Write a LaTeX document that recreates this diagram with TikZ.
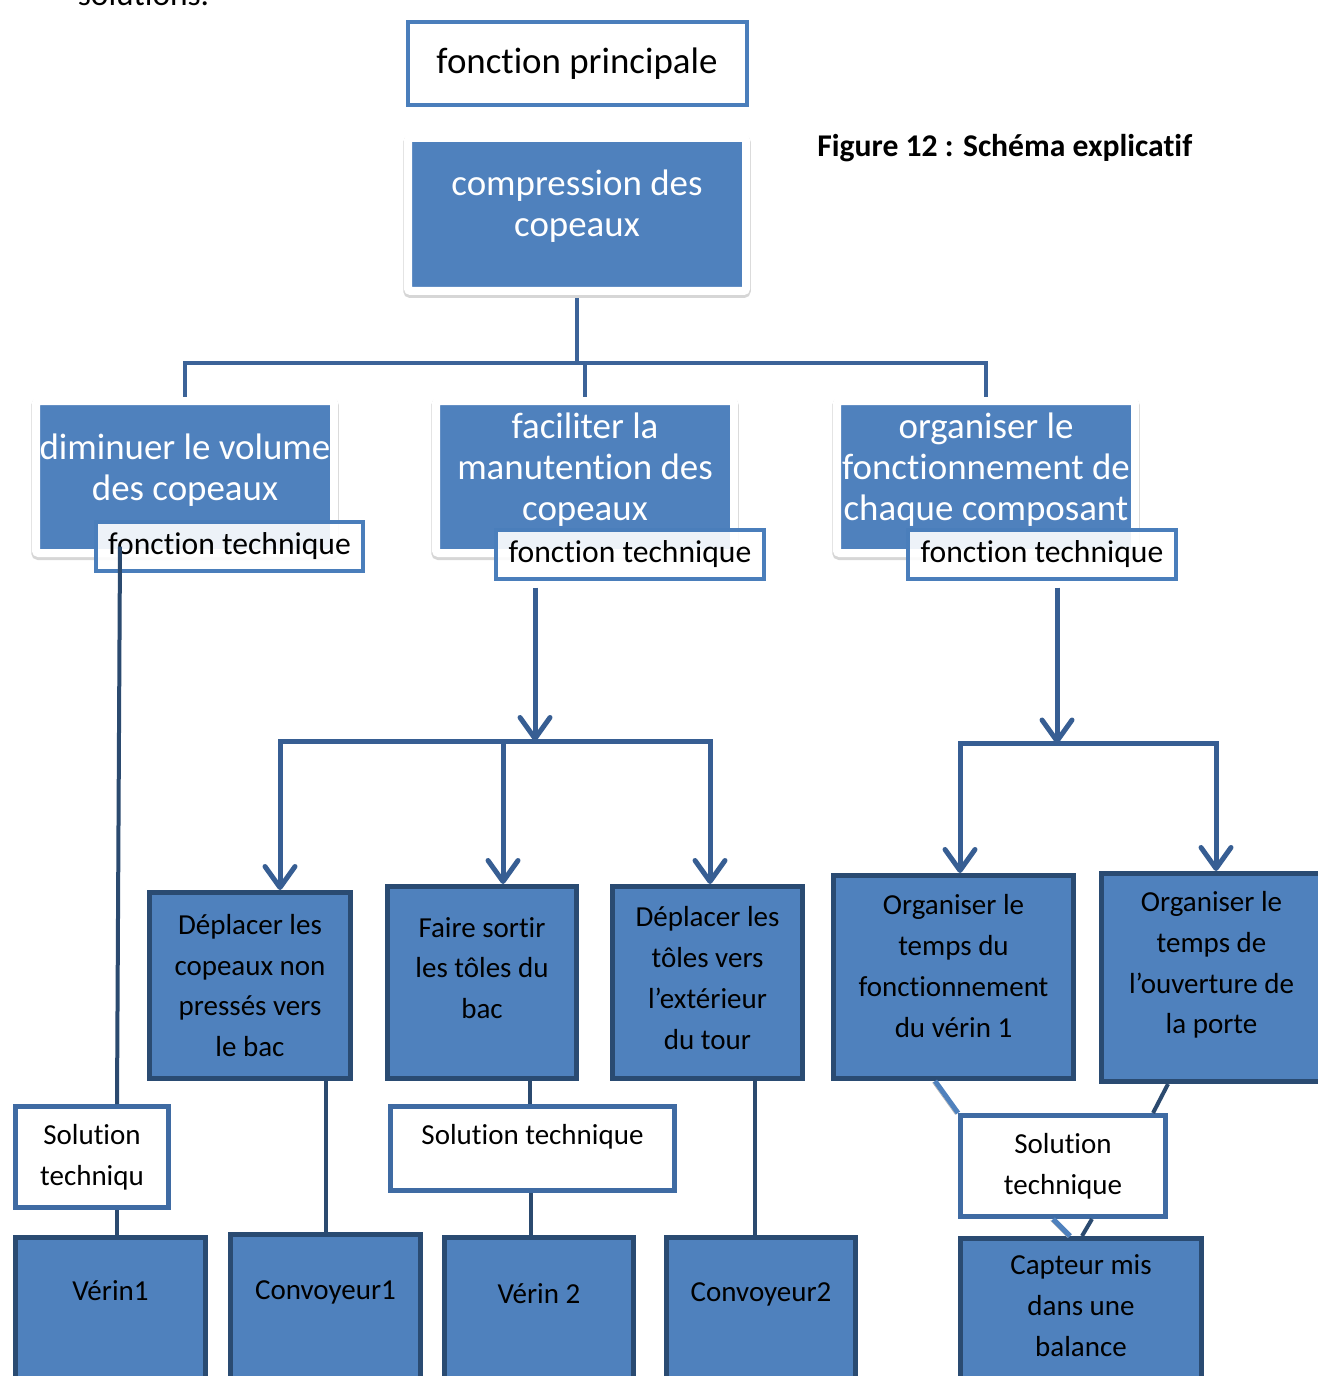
\documentclass[tikz,border=0pt]{standalone}
\usepackage{fontspec}
\setmainfont{Carlito}[Ligatures=NoCommon]
\usetikzlibrary{arrows.meta,positioning,backgrounds}

\definecolor{boxblue}{HTML}{4F81BD}
\definecolor{edgeblue}{HTML}{2A4B72}
\definecolor{flowblue}{HTML}{375E93}
\definecolor{treeblue}{HTML}{3C6398}
\definecolor{tagblue}{HTML}{4A7EBB}
\definecolor{solblue}{HTML}{3F6BA3}
\definecolor{linkdark}{HTML}{2B4A6F}

\begin{document}
\begin{tikzpicture}[
  font=\fontsize{16.5}{23.2}\selectfont,
  >={Straight Barb[length=4.2mm,width=6mm,round]},
  head/.style={draw=tagblue,line width=0.8mm,fill=white,
               minimum width=67.8mm,minimum height=16.6mm,
               font=\fontsize{21}{23.2}\selectfont},
  fct/.style={draw=white,line width=1.6mm,fill=boxblue,rounded corners=0.5mm,
              minimum width=59.6mm,minimum height=30.4mm,
              preaction={draw=black!16,line width=1.9mm,
                         transform canvas={yshift=-0.45mm}}},
  wtxt/.style={align=center,text=white,inner sep=0pt,
               font=\fontsize{21}{23.2}\selectfont},
  tag/.style={draw=tagblue,line width=0.8mm,fill=white,fill opacity=0.9,
              text opacity=1,minimum width=53.5mm,minimum height=9.8mm,
              font=\fontsize{18}{21}\selectfont},
  sub/.style={draw=edgeblue,line width=1mm,fill=boxblue,align=center},
  soltag/.style={draw=solblue,line width=1mm,fill=white,align=center},
  btxt/.style={align=center,inner sep=0pt},
  tree/.style={draw=treeblue,line width=0.8mm},
  flow/.style={draw=flowblue,line width=1mm},
  link/.style={draw=linkdark,line width=0.8mm},
  lite/.style={draw=boxblue,line width=1mm,
               preaction={draw=black!30,
                          transform canvas={shift={(-0.5mm,-0.3mm)}}}},
]
\useasboundingbox (0,0) rectangle (263.4mm,-275.2mm);

% ---- top: main function and caption ----
\node[anchor=base west,inner sep=0pt,font=\fontsize{19}{22}\selectfont]
     (intro) at (15.5mm,-1.2mm) {solutions.};
\node[head] (princ) at (115.4mm,-12.7mm) {fonction principale};
\node[anchor=base west,inner sep=0pt,font=\bfseries\fontsize{18}{21}\selectfont]
     (caption) at (163.4mm,-31.3mm) {Figure 12 : Schéma explicatif};

\node[fct,minimum width=67.6mm,minimum height=30.6mm] (comp) at (115.4mm,-42.9mm) {};
\node[wtxt] (comptxt) at ([yshift=1.6mm]comp.center) {compression des\\copeaux};

% ---- level 2: the three functions with their tags ----
\node[fct] (dimvol) at (37.0mm,-95.4mm) {};
\node[wtxt] (dimtxt) at ([yshift=1.4mm]dimvol.center)
     {diminuer le volume\\des copeaux};
\node[fct] (facman) at (117.0mm,-95.4mm) {};
\node[wtxt] (factxt) at ([yshift=1.5mm]facman.center)
     {faciliter la\\manutention des\\copeaux};
\node[fct] (orgfct) at (197.2mm,-95.4mm) {};
\node[wtxt] (orgtxt) at ([yshift=1.5mm]orgfct.center)
     {organiser le\\fonctionnement de\\chaque composant};

\node[tag] (ftdim) at (45.9mm,-109.3mm) {fonction technique};
\node[tag] (ftfac) at (126.0mm,-110.9mm) {fonction technique};
\node[tag] (ftorg) at (208.4mm,-110.9mm) {fonction technique};

% ---- level 3: technical sub-functions ----
\node[sub,minimum width=40.2mm,minimum height=37.2mm] (depcop) at (50.0mm,-197.1mm)
     {Déplacer les\\copeaux non\\pressés vers\\le bac};
\node[sub,minimum width=37.8mm,minimum height=38.4mm] (sortol) at (96.4mm,-196.5mm) {};
\node[btxt] (sortxt) at ([yshift=2.9mm]sortol.center) {Faire sortir\\les tôles du\\bac};
\node[sub,minimum width=38mm,minimum height=38.4mm] (deptol) at (141.5mm,-196.5mm) {};
\node[btxt] (deptxt) at ([yshift=0.9mm]deptol.center)
     {Déplacer les\\tôles vers\\l’extérieur\\du tour};
\node[sub,minimum width=48mm,minimum height=40.6mm] (orgver) at (190.7mm,-195.4mm) {};
\node[btxt] (vertxt) at ([yshift=2.2mm]orgver.center)
     {Organiser le\\temps du\\fonctionnement\\du vérin 1};
\node[sub,minimum width=44mm,minimum height=41.6mm] (orgpor) at (242.3mm,-195.5mm) {};
\node[btxt] (portxt) at ([yshift=2.5mm]orgpor.center)
     {Organiser le\\temps de\\l’ouverture de\\la porte};

% ---- solution tags ----
\node[soltag,minimum width=30.6mm,minimum height=20.2mm] (soldim) at (18.4mm,-231.4mm)
     {Solution\\techniqu};
\node[soltag,minimum width=56.8mm,minimum height=16.8mm] (solsor) at (106.5mm,-229.7mm) {};
\node[btxt] (solsortxt) at ([yshift=2.3mm]solsor.center) {Solution technique};
\node[soltag,minimum width=41mm,minimum height=20.2mm] (solorg) at (212.6mm,-233.2mm)
     {Solution\\technique};

% ---- bottom: components ----
\node[sub,minimum width=38mm,minimum height=32mm] (verin1) at (22.1mm,-263.5mm) {};
\node[btxt] (v1txt) at ([yshift=-11.2mm]verin1.north) {Vérin1};
\node[sub,minimum width=38mm,minimum height=32mm] (conv1) at (65.1mm,-262.9mm) {};
\node[btxt] (c1txt) at ([yshift=-12mm]conv1.north) {Convoyeur1};
\node[sub,minimum width=37.8mm,minimum height=32mm] (verin2) at (107.8mm,-263.5mm) {};
\node[btxt] (v2txt) at ([yshift=-11.8mm]verin2.north) {Vérin 2};
\node[sub,minimum width=37.8mm,minimum height=32mm] (conv2) at (152.2mm,-263.5mm) {};
\node[btxt] (c2txt) at ([yshift=-11.8mm]conv2.north) {Convoyeur2};
\node[sub,minimum width=48.2mm,minimum height=32mm] (capteur) at (216.2mm,-263.7mm) {};
\node[btxt] (captxt) at ([yshift=-13.9mm]capteur.north) {Capteur mis\\dans une\\balance};

% main function splits into the three functions (behind the frames)
\begin{scope}[on background layer]
  \coordinate (bus1) at (0,-72.6mm);
  \draw[tree] (comp.south) -- (comp.south |- bus1);
  \draw[tree,line cap=rect] (dimvol.north) -- (dimvol.north |- bus1)
        -- (orgfct.north |- bus1) -- (orgfct.north);
  \draw[tree] (facman.north) -- (facman.north |- bus1);
\end{scope}

% middle function -> its three sub-functions
\coordinate (bus2) at (0,-148.2mm);
\draw[flow,->] ([xshift=-19mm,yshift=-1.3mm]ftfac.south)
      -- ([xshift=-19mm]ftfac.south |- bus2);
\draw[flow,line cap=rect] ([xshift=6mm]depcop.north |- bus2)
      -- ([xshift=0.5mm]deptol.north |- bus2);
\draw[flow,->] ([xshift=6mm]depcop.north |- bus2) -- ([xshift=6mm]depcop.north);
\draw[flow,->] ([xshift=4.2mm]sortol.north |- bus2) -- ([xshift=4.2mm]sortol.north);
\draw[flow,->] ([xshift=0.5mm]deptol.north |- bus2) -- ([xshift=0.5mm]deptol.north);

% right function -> its two sub-functions
\coordinate (bus3) at (0,-148.7mm);
\draw[flow,->] ([xshift=3mm,yshift=-1.3mm]ftorg.south)
      -- ([xshift=3mm]ftorg.south |- bus3);
\draw[flow,line cap=rect] ([xshift=1.3mm]orgver.north |- bus3)
      -- ([xshift=0.9mm]orgpor.north |- bus3);
\draw[flow,->] ([xshift=1.3mm]orgver.north |- bus3) -- ([xshift=1.3mm]orgver.north);
\draw[flow,->] ([xshift=0.9mm]orgpor.north |- bus3) -- ([xshift=0.9mm]orgpor.north);

% solutions and components
\draw[link] ([xshift=-21.9mm]ftdim.center) -- ([xshift=5mm]soldim.north);
\draw[link] ([xshift=5mm]soldim.south) -- ([xshift=5mm]soldim.south |- verin1.north);
\draw[link] ([xshift=15.2mm]depcop.south) -- ([xshift=15.2mm]depcop.south |- conv1.north);
\draw[link] ([xshift=9.6mm]sortol.south) -- ([xshift=9.6mm]sortol.south |- solsor.north);
\draw[link] ([xshift=-0.3mm]solsor.south) -- ([xshift=-0.3mm]solsor.south |- verin2.north);
\draw[link] ([xshift=9.5mm,yshift=0.5mm]deptol.south)
      -- ([xshift=9.5mm]deptol.south |- conv2.north);
\draw[lite] ([xshift=-3.7mm]orgver.south) -- (solorg.north west);
\draw[link] ([xshift=-8.7mm]orgpor.south) -- ([xshift=18mm]solorg.north);
\draw[lite] ([xshift=-2mm]solorg.south) -- ([xshift=-2.2mm]capteur.north);
\draw[link] ([xshift=5.8mm]solorg.south) -- ([xshift=0.2mm]capteur.north);

\end{tikzpicture}
\end{document}
